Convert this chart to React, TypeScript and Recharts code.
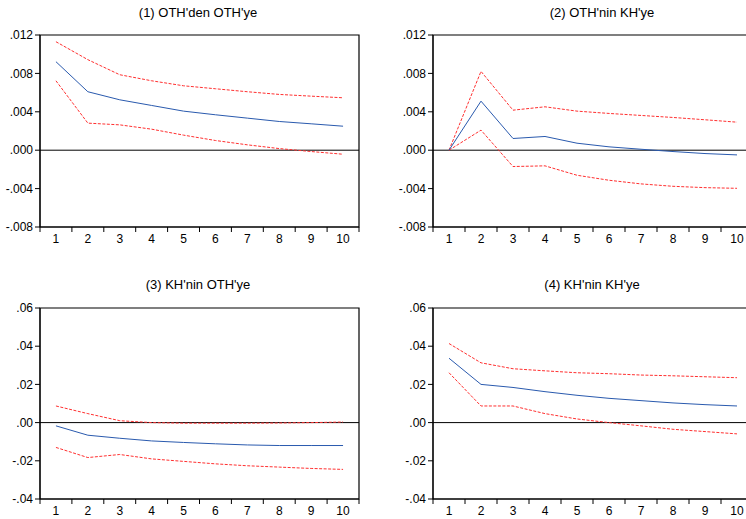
import React from "react"
import { LineChart, Line, XAxis, YAxis, ReferenceLine, ReferenceArea } from "recharts"

// periods 1..10 of the impulse responses
const periods = [1, 2, 3, 4, 5, 6, 7, 8, 9, 10]

// (1) OTH'den OTH'ye
const resp1 = [0.00922, 0.00609, 0.00525, 0.00466, 0.00407, 0.00369, 0.00334, 0.00299, 0.00275, 0.0025]
const upper1 = [0.0113, 0.00943, 0.00786, 0.00723, 0.00671, 0.0064, 0.00609, 0.00581, 0.00563, 0.00546]
const lower1 = [0.00723, 0.00282, 0.00264, 0.00219, 0.00157, 0.00101, 0.00056, 0.00017, -0.00014, -0.00042]

// (2) OTH'nin KH'ye
const resp2 = [0, 0.00511, 0.00122, 0.00143, 0.00073, 0.00035, 0.0001, -0.00014, -0.00035, -0.00049]
const upper2 = [0, 0.00821, 0.00417, 0.00452, 0.00407, 0.00383, 0.00362, 0.00341, 0.00317, 0.00292]
const lower2 = [0, 0.00209, -0.0017, -0.00163, -0.00261, -0.00313, -0.00351, -0.00376, -0.0039, -0.00397]

// (3) KH'nin OTH'ye
const resp3 = [-0.0017, -0.0066, -0.0082, -0.0096, -0.0104, -0.0111, -0.0117, -0.012, -0.012, -0.012]
const upper3 = [0.0087, 0.0047, 0.001, 0.0, -0.0003, -0.0003, -0.0003, -0.0002, 0.0, 0.0003]
const lower3 = [-0.013, -0.0183, -0.0167, -0.019, -0.0203, -0.0216, -0.0226, -0.0233, -0.024, -0.0245]

// (4) KH'nin KH'ye
const resp4 = [0.0337, 0.02, 0.0184, 0.0162, 0.0143, 0.0127, 0.0115, 0.0103, 0.0094, 0.0087]
const upper4 = [0.0414, 0.0313, 0.0282, 0.0271, 0.0261, 0.0256, 0.0249, 0.0245, 0.024, 0.0235]
const lower4 = [0.0261, 0.0087, 0.0087, 0.0047, 0.0019, 0.0, -0.0017, -0.0035, -0.0047, -0.0059]

const yTicksSmall = [-0.008, -0.004, 0, 0.004, 0.008, 0.012]
const yTicksLarge = [-0.04, -0.02, 0, 0.02, 0.04, 0.06]
// labels sit on the periods, tick marks on the half-steps between them
const xTicks = [0.5, 1, 1.5, 2, 2.5, 3, 3.5, 4, 4.5, 5, 5.5, 6, 6.5, 7, 7.5, 8, 8.5, 9, 9.5, 10, 10.5]

const FONT = '"Liberation Sans", Arial, sans-serif'

const build = (resp: number[], up: number[], lo: number[]) =>
    periods.map((p, i) => ({ period: p, resp: resp[i], upper: up[i], lower: lo[i] }))

function XTick(props: any) {
    const { x, y, payload } = props
    const v = payload.value
    if (Number.isInteger(v)) {
        return (
            <text x={x} y={y + 16} textAnchor="middle" fontSize={12} fontFamily={FONT} fill="#000">
                {v}
            </text>
        )
    }
    return <line x1={x} x2={x} y1={y} y2={y + 5} stroke="#000" strokeWidth={1} />
}

interface PanelProps {
    title: string
    titleX: number
    titleY: number
    left: number
    top: number
    width: number
    height: number
    yWidth: number
    marginTop: number
    marginRight: number
    xHeight: number
    data: { period: number; resp: number; upper: number; lower: number }[]
    yTicks: number[]
    decimals: number
}

function Panel(p: PanelProps) {
    const fmt = (v: number) => v.toFixed(p.decimals).replace("0.", ".")
    const yMin = p.yTicks[0]
    const yMax = p.yTicks[p.yTicks.length - 1]
    return (
        <>
            <div
                style={{
                    position: "absolute",
                    left: p.titleX - 150,
                    top: p.titleY - 8,
                    width: 300,
                    textAlign: "center",
                    fontFamily: FONT,
                    fontSize: 13,
                    lineHeight: "16px",
                    color: "#000",
                }}
            >
                {p.title}
            </div>
            <div style={{ position: "absolute", left: p.left, top: p.top }}>
                <LineChart
                    width={p.width}
                    height={p.height}
                    data={p.data}
                    margin={{ top: p.marginTop, right: p.marginRight, bottom: 0, left: 0 }}
                >
                    <XAxis
                        dataKey="period"
                        type="number"
                        domain={[0.5, 10.5]}
                        ticks={xTicks}
                        interval={0}
                        tick={<XTick />}
                        tickLine={false}
                        tickSize={0}
                        tickMargin={0}
                        height={p.xHeight}
                        axisLine={{ stroke: "#000" }}
                    />
                    <YAxis
                        domain={[yMin, yMax]}
                        ticks={p.yTicks}
                        interval={0}
                        tickFormatter={fmt}
                        width={p.yWidth}
                        tickSize={5}
                        tickMargin={2}
                        tickLine={{ stroke: "#000" }}
                        axisLine={{ stroke: "#000" }}
                        tick={{ fill: "#000", fontSize: 12, fontFamily: FONT }}
                    />
                    <ReferenceArea x1={0.5} x2={10.5} y1={yMin} y2={yMax} fill="none" stroke="#000" strokeWidth={1.2} />
                    <ReferenceLine y={0} stroke="#000" strokeWidth={1} />
                    <Line dataKey="upper" type="linear" stroke="#ff3030" strokeWidth={1} strokeDasharray="3 1.5" dot={false} isAnimationActive={false} />
                    <Line dataKey="lower" type="linear" stroke="#ff3030" strokeWidth={1} strokeDasharray="3 1.5" dot={false} isAnimationActive={false} />
                    <Line dataKey="resp" type="linear" stroke="#2a5aae" strokeWidth={1} dot={false} isAnimationActive={false} />
                </LineChart>
            </div>
        </>
    )
}

export default function App() {
    return (
        <div
            style={{
                position: "absolute",
                left: 0,
                top: 0,
                width: 746,
                height: 519,
                overflow: "hidden",
                background: "#fff",
            }}
        >
            <Panel title="(1) OTH'den OTH'ye" titleX={198} titleY={13} left={0} top={0} width={373} height={260}
                yWidth={40} marginTop={35} marginRight={14} xHeight={33}
                data={build(resp1, upper1, lower1)} yTicks={yTicksSmall} decimals={3} />
            <Panel title="(2) OTH'nin KH'ye" titleX={602} titleY={13} left={373} top={0} width={400} height={260}
                yWidth={60} marginTop={35} marginRight={20} xHeight={33}
                data={build(resp2, upper2, lower2)} yTicks={yTicksSmall} decimals={3} />
            <Panel title="(3) KH'nin OTH'ye" titleX={198} titleY={285} left={0} top={260} width={373} height={259}
                yWidth={40} marginTop={48} marginRight={14} xHeight={20}
                data={build(resp3, upper3, lower3)} yTicks={yTicksLarge} decimals={2} />
            <Panel title="(4) KH'nin KH'ye" titleX={592} titleY={285} left={373} top={260} width={400} height={259}
                yWidth={60} marginTop={48} marginRight={20} xHeight={20}
                data={build(resp4, upper4, lower4)} yTicks={yTicksLarge} decimals={2} />
        </div>
    )
}
